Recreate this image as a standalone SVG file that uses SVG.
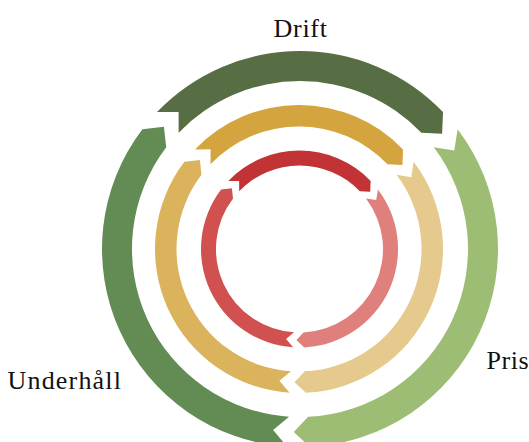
<svg xmlns="http://www.w3.org/2000/svg" width="529" height="442" viewBox="0 0 529 442">
<style>
.lbl{font-family:"Liberation Serif","Times New Roman",serif;font-size:26px;fill:#111}
.g1{fill:#576E44}.g2{fill:#9DBD74}.g3{fill:#628C54}
.y1{fill:#D4A43E}.y2{fill:#E5C98D}.y3{fill:#DBB35C}
.r1{fill:#C23335}.r2{fill:#DF807D}.r3{fill:#D05150}
</style>
<rect width="529" height="442" fill="#fff"/>
<g id="ring-outer">
<g id="outer-top"><path class="g1" d="M156.97,112.08 A198,198 0 0 1 443.03,112.08 L442.12,133.71 L421.36,132.83 A168,168 0 0 0 178.64,132.83 L178.62,112.05 Z"/></g>
<g id="outer-right"><path class="g2" d="M457.61,129.15 A198,198 0 0 1 309.50,446.77 L293.77,431.89 L308.06,416.81 A168,168 0 0 0 433.73,147.31 L454.25,150.54 Z"/></g>
<g id="outer-left"><path class="g3" d="M287.05,446.58 A198,198 0 0 1 142.39,129.15 L163.90,126.67 L166.27,147.31 A168,168 0 0 0 289.01,416.64 L273.11,430.01 Z"/></g>
</g>
<g id="ring-middle">
<g id="middle-top"><path class="y1" d="M194.98,149.42 A144,144 0 0 1 403.02,149.42 L402.48,165.05 L387.49,164.29 A122.5,122.5 0 0 0 210.51,164.29 L210.62,149.28 Z"/></g>
<g id="middle-right"><path class="y2" d="M413.63,161.84 A144,144 0 0 1 305.91,392.83 L294.47,382.17 L304.88,371.36 A122.5,122.5 0 0 0 396.51,174.85 L411.32,177.31 Z"/></g>
<g id="middle-left"><path class="y3" d="M289.58,392.69 A144,144 0 0 1 184.37,161.84 L199.90,159.92 L201.49,174.85 A122.5,122.5 0 0 0 290.99,371.24 L279.42,380.80 Z"/></g>
</g>
<g id="ring-inner">
<g id="inner-top"><path class="r1" d="M228.35,180.89 A98.5,98.5 0 0 1 370.65,180.89 L370.17,191.67 L359.82,191.26 A83.5,83.5 0 0 0 239.18,191.26 L239.14,180.90 Z"/></g>
<g id="inner-right"><path class="r2" d="M377.91,189.38 A98.5,98.5 0 0 1 304.23,347.39 L296.40,339.95 L303.51,332.40 A83.5,83.5 0 0 0 365.97,198.46 L376.21,200.04 Z"/></g>
<g id="inner-left"><path class="r3" d="M293.06,347.29 A98.5,98.5 0 0 1 221.09,189.38 L231.82,188.17 L233.03,198.46 A83.5,83.5 0 0 0 294.04,332.32 L286.13,339.01 Z"/></g>
</g>
<g id="labels">
<text id="label-drift" class="lbl" x="273.5" y="37" textLength="53.5" lengthAdjust="spacing">Drift</text>
<text id="label-pris" class="lbl" x="486.5" y="369" textLength="42" lengthAdjust="spacing">Pris</text>
<text id="label-underhall" class="lbl" x="7.5" y="388.5" textLength="113.5" lengthAdjust="spacing">Underhåll</text>
</g>
</svg>
